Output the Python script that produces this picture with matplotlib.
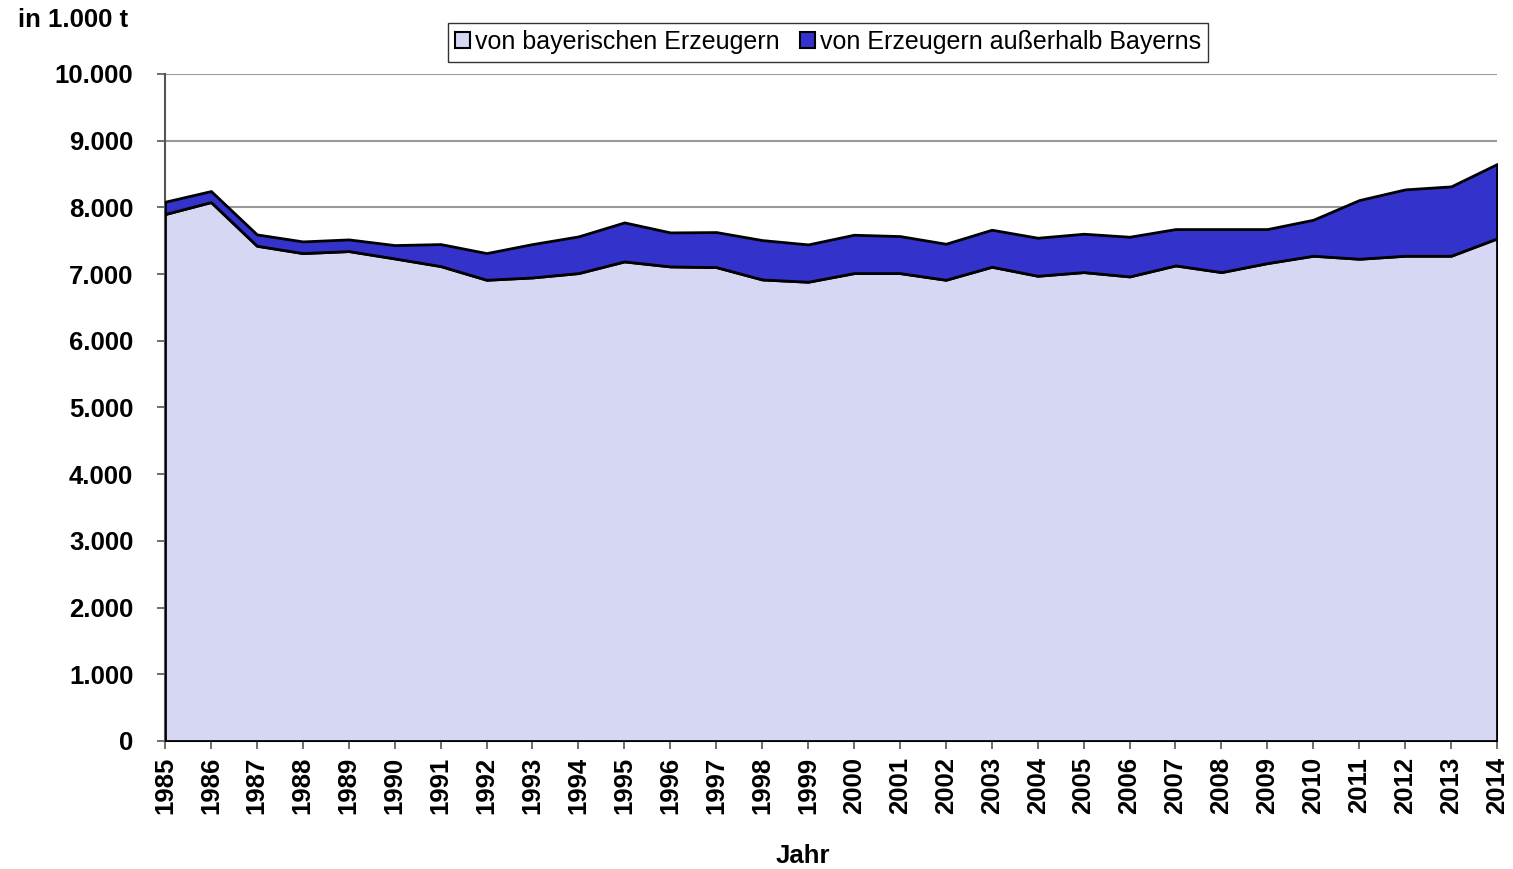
import matplotlib.pyplot as plt
import numpy as np
from matplotlib.ticker import FuncFormatter

plt.rcParams['font.family'] = ['Liberation Sans', 'DejaVu Sans']

years = list(range(1985, 2015))
# in 1.000 t
bayern = [7900, 8080, 7425, 7315, 7345, 7235, 7120, 6915, 6950, 7015,
          7190, 7115, 7105, 6920, 6885, 7015, 7015, 6915, 7110, 6975,
          7030, 6965, 7130, 7030, 7165, 7275, 7230, 7275, 7275, 7535]
gesamt = [8085, 8245, 7595, 7490, 7520, 7435, 7450, 7315, 7450, 7565,
          7775, 7625, 7630, 7510, 7445, 7590, 7570, 7455, 7665, 7545,
          7605, 7560, 7675, 7675, 7675, 7815, 8110, 8270, 8315, 8650]
ausserhalb = [g - b for g, b in zip(gesamt, bayern)]

labels = ['von bayerischen Erzeugern', 'von Erzeugern außerhalb Bayerns']
colors = ['#D6D7F3', '#3333CC']

fig = plt.figure(figsize=(15.13, 8.69), dpi=100)
ax = fig.add_axes([165/1513, 1 - 741/869, (1497-165)/1513, (741-74)/869])

polys = ax.stackplot(years, bayern, ausserhalb, colors=colors,
                     edgecolor='black', linewidth=2, labels=labels, zorder=3)

ax.set_xlim(1985, 2014)
ax.set_ylim(0, 10000)
ax.set_xticks(years)
ax.set_xticklabels([str(y) for y in years], rotation=90, fontsize=18.5, fontweight='bold')
ax.set_yticks(np.arange(0, 10001, 1000))
ax.yaxis.set_major_formatter(FuncFormatter(lambda v, p: f'{int(v):,}'.replace(',', '.')))
for t in ax.get_yticklabels():
    t.set_fontsize(18.5)
    t.set_fontweight('bold')
ax.tick_params(axis='both', direction='out', length=5.8, width=1.2, color='#555555')
ax.tick_params(axis='x', pad=5.5)
ax.tick_params(axis='y', pad=17)

ax.grid(axis='y', color='#999999', linewidth=1.5, zorder=1)
for s in ['top', 'right']:
    ax.spines[s].set_visible(False)
ax.spines['left'].set_color('#555555')
ax.spines['left'].set_linewidth(1.5)
ax.spines['bottom'].set_color('#555555')
ax.spines['bottom'].set_linewidth(1.5)

fig.text(803/1513, 1 - 856/869, 'Jahr', fontsize=18.5, fontweight='bold', va='center', ha='center')
fig.text(18/1513, 1 - 20/869, 'in 1.000 t', fontsize=18.5, fontweight='bold', va='center', ha='left')

leg = fig.legend(handles=polys, labels=labels, ncol=2, loc='center',
                 bbox_to_anchor=(828/1513, 1 - 42/869), fontsize=18,
                 frameon=True, fancybox=False, edgecolor='black',
                 handlelength=0.6, handleheight=0.6, handletextpad=0.2,
                 columnspacing=0.8, borderpad=0.3)
leg.get_frame().set_linewidth(1)
for h in leg.legend_handles:
    h.set_linewidth(1.5)

fig.savefig('out.png', dpi=100)
